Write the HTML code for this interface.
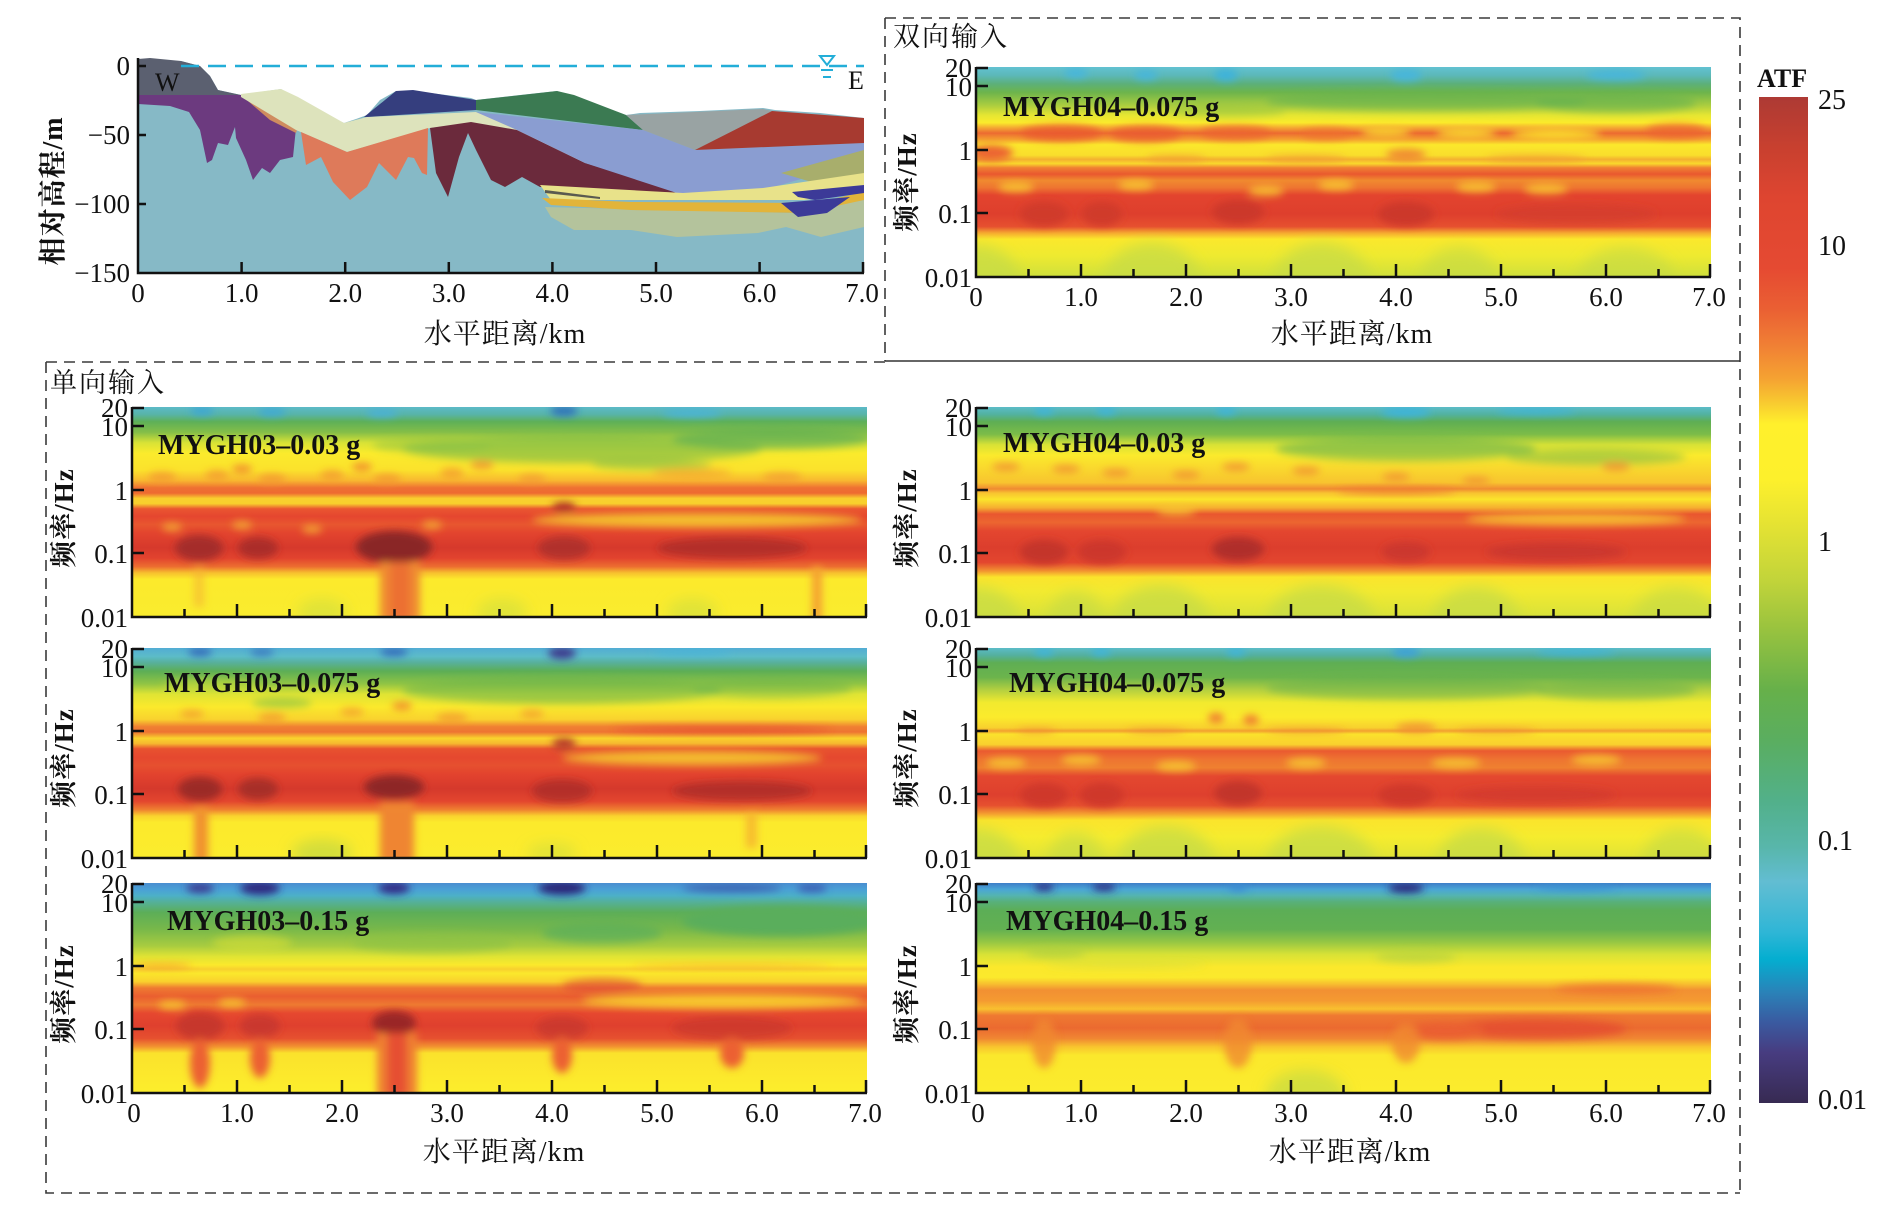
<!DOCTYPE html>
<html><head><meta charset="utf-8"><style>
html,body{margin:0;padding:0;background:#fff;}
svg{display:block;}
.t{font-family:"Liberation Serif","Noto Serif CJK SC",serif;fill:#111;}
</style></head><body>
<svg width="1894" height="1228" viewBox="0 0 1894 1228" xmlns="http://www.w3.org/2000/svg">
<defs>
<filter id="b4" x="-20%" y="-20%" width="140%" height="140%"><feGaussianBlur stdDeviation="4"/></filter>
<filter id="b7" x="-20%" y="-30%" width="140%" height="160%"><feGaussianBlur stdDeviation="7"/></filter>
<linearGradient id="gCB" x1="0" y1="0" x2="0" y2="1">
<stop offset="0" stop-color="#ad3a34"/><stop offset=".05" stop-color="#c8402f"/><stop offset=".1" stop-color="#de4530"/><stop offset=".17" stop-color="#e54a32"/><stop offset=".21" stop-color="#ea5f33"/><stop offset=".245" stop-color="#f07e34"/><stop offset=".28" stop-color="#f5a232"/><stop offset=".305" stop-color="#f8cc30"/><stop offset=".325" stop-color="#fff02c"/><stop offset=".38" stop-color="#fdf02c"/><stop offset=".42" stop-color="#e8e432"/><stop offset=".48" stop-color="#c2d43a"/><stop offset=".525" stop-color="#9cc43e"/><stop offset=".59" stop-color="#66b04a"/><stop offset=".64" stop-color="#5aae60"/><stop offset=".70" stop-color="#52b08a"/><stop offset=".745" stop-color="#58b6aa"/><stop offset=".78" stop-color="#62bdd2"/><stop offset=".83" stop-color="#2fb6d6"/><stop offset=".857" stop-color="#04aed0"/><stop offset=".89" stop-color="#2a82b8"/><stop offset=".92" stop-color="#3a5aa0"/><stop offset=".95" stop-color="#473c80"/><stop offset="1" stop-color="#372a52"/>
</linearGradient>
<linearGradient id="gTR" x1="0" y1="0" x2="0" y2="1">
<stop offset="0" stop-color="#62c2d2"/><stop offset=".04" stop-color="#5cb8b8"/><stop offset=".08" stop-color="#5cb07a"/><stop offset=".12" stop-color="#6cb44c"/><stop offset=".18" stop-color="#a8cc40"/><stop offset=".23" stop-color="#e6e632"/><stop offset=".265" stop-color="#fbeb2c"/><stop offset=".29" stop-color="#f4a632"/><stop offset=".315" stop-color="#ec6a31"/><stop offset=".345" stop-color="#f4a030"/><stop offset=".37" stop-color="#fbe82c"/><stop offset=".42" stop-color="#f9de2c"/><stop offset=".44" stop-color="#f4b030"/><stop offset=".46" stop-color="#f9d82c"/><stop offset=".48" stop-color="#f08032"/><stop offset=".51" stop-color="#e9582f"/><stop offset=".54" stop-color="#f08a2f"/><stop offset=".575" stop-color="#ee7431"/><stop offset=".61" stop-color="#e3442e"/><stop offset=".70" stop-color="#de3f2d"/><stop offset=".76" stop-color="#e6502f"/><stop offset=".79" stop-color="#f5a830"/><stop offset=".82" stop-color="#fbe82c"/><stop offset=".9" stop-color="#eeea30"/><stop offset="1" stop-color="#cfe03c"/>
</linearGradient>
<linearGradient id="gL1" x1="0" y1="0" x2="0" y2="1">
<stop offset="0" stop-color="#5cbac8"/><stop offset=".035" stop-color="#58b4a8"/><stop offset=".07" stop-color="#5eb058"/><stop offset=".12" stop-color="#84be48"/><stop offset=".17" stop-color="#d8e236"/><stop offset=".22" stop-color="#fbeb2c"/><stop offset=".30" stop-color="#fbe22c"/><stop offset=".35" stop-color="#f8b830"/><stop offset=".385" stop-color="#ef7032"/><stop offset=".41" stop-color="#ee6a31"/><stop offset=".435" stop-color="#f9cf2e"/><stop offset=".46" stop-color="#f8d02d"/><stop offset=".485" stop-color="#ea5630"/><stop offset=".52" stop-color="#e5462f"/><stop offset=".56" stop-color="#e8562f"/><stop offset=".60" stop-color="#e3442e"/><stop offset=".67" stop-color="#d6392c"/><stop offset=".72" stop-color="#e2432e"/><stop offset=".76" stop-color="#ec6d30"/><stop offset=".79" stop-color="#f7c02e"/><stop offset=".82" stop-color="#fcea2c"/><stop offset="1" stop-color="#f9ec2e"/>
</linearGradient>
<linearGradient id="gL2" x1="0" y1="0" x2="0" y2="1">
<stop offset="0" stop-color="#52acd4"/><stop offset=".04" stop-color="#5cbcc8"/><stop offset=".07" stop-color="#58b09a"/><stop offset=".11" stop-color="#5cae56"/><stop offset=".17" stop-color="#90c444"/><stop offset=".22" stop-color="#dfe434"/><stop offset=".28" stop-color="#fbe92c"/><stop offset=".34" stop-color="#f9d22e"/><stop offset=".375" stop-color="#f08032"/><stop offset=".40" stop-color="#ee7432"/><stop offset=".43" stop-color="#f9d42d"/><stop offset=".455" stop-color="#f6b82f"/><stop offset=".48" stop-color="#e8522f"/><stop offset=".52" stop-color="#e5482f"/><stop offset=".56" stop-color="#e6502f"/><stop offset=".60" stop-color="#e3432e"/><stop offset=".67" stop-color="#d5392c"/><stop offset=".73" stop-color="#e3462e"/><stop offset=".77" stop-color="#ef8030"/><stop offset=".80" stop-color="#f9d22e"/><stop offset=".83" stop-color="#fcea2c"/><stop offset="1" stop-color="#fbec2d"/>
</linearGradient>
<linearGradient id="gL3" x1="0" y1="0" x2="0" y2="1">
<stop offset="0" stop-color="#4a8ed0"/><stop offset=".03" stop-color="#4aa0d6"/><stop offset=".06" stop-color="#4cb0c8"/><stop offset=".09" stop-color="#54b09a"/><stop offset=".14" stop-color="#5cae58"/><stop offset=".22" stop-color="#78b84a"/><stop offset=".30" stop-color="#a8cc40"/><stop offset=".35" stop-color="#e0e434"/><stop offset=".39" stop-color="#fbe92c"/><stop offset=".41" stop-color="#f8d02e"/><stop offset=".43" stop-color="#fbe82c"/><stop offset=".47" stop-color="#f9d02d"/><stop offset=".50" stop-color="#ef7a31"/><stop offset=".54" stop-color="#ea5e30"/><stop offset=".58" stop-color="#ee7a31"/><stop offset=".62" stop-color="#e6482f"/><stop offset=".68" stop-color="#df402e"/><stop offset=".74" stop-color="#e6502f"/><stop offset=".78" stop-color="#f29530"/><stop offset=".81" stop-color="#fbe22c"/><stop offset="1" stop-color="#fcee2c"/>
</linearGradient>
<linearGradient id="gR1" x1="0" y1="0" x2="0" y2="1">
<stop offset="0" stop-color="#5cbcc8"/><stop offset=".035" stop-color="#52b2a0"/><stop offset=".07" stop-color="#5eae54"/><stop offset=".13" stop-color="#7cbc48"/><stop offset=".18" stop-color="#d8e236"/><stop offset=".23" stop-color="#fbea2c"/><stop offset=".30" stop-color="#f9d62e"/><stop offset=".36" stop-color="#f8c42f"/><stop offset=".39" stop-color="#f08a32"/><stop offset=".41" stop-color="#f8c430"/><stop offset=".44" stop-color="#fbe42c"/><stop offset=".48" stop-color="#f6ae30"/><stop offset=".51" stop-color="#e9562f"/><stop offset=".55" stop-color="#ec6630"/><stop offset=".59" stop-color="#e4462f"/><stop offset=".67" stop-color="#dc3e2d"/><stop offset=".74" stop-color="#e3462e"/><stop offset=".78" stop-color="#f29230"/><stop offset=".81" stop-color="#fbe42c"/><stop offset=".88" stop-color="#f2ea30"/><stop offset="1" stop-color="#d8e23a"/>
</linearGradient>
<linearGradient id="gR2" x1="0" y1="0" x2="0" y2="1">
<stop offset="0" stop-color="#5cbcc8"/><stop offset=".035" stop-color="#54b09e"/><stop offset=".07" stop-color="#5eae54"/><stop offset=".14" stop-color="#6cb44c"/><stop offset=".20" stop-color="#b4d040"/><stop offset=".26" stop-color="#f2ea2e"/><stop offset=".33" stop-color="#fbeb2c"/><stop offset=".38" stop-color="#f8d02e"/><stop offset=".395" stop-color="#f2a030"/><stop offset=".41" stop-color="#fbe22c"/><stop offset=".46" stop-color="#f9d02e"/><stop offset=".49" stop-color="#ea5a30"/><stop offset=".53" stop-color="#ee7431"/><stop offset=".57" stop-color="#ef8030"/><stop offset=".61" stop-color="#e4482f"/><stop offset=".70" stop-color="#de402e"/><stop offset=".75" stop-color="#e6502f"/><stop offset=".79" stop-color="#f4a030"/><stop offset=".82" stop-color="#fbe42c"/><stop offset=".9" stop-color="#f6ec2e"/><stop offset="1" stop-color="#e0e436"/>
</linearGradient>
<linearGradient id="gR3" x1="0" y1="0" x2="0" y2="1">
<stop offset="0" stop-color="#3e7ec8"/><stop offset=".03" stop-color="#4aa6d6"/><stop offset=".06" stop-color="#54b4b0"/><stop offset=".09" stop-color="#58b07a"/><stop offset=".13" stop-color="#5cae56"/><stop offset=".22" stop-color="#62b052"/><stop offset=".28" stop-color="#94c644"/><stop offset=".34" stop-color="#d8e236"/><stop offset=".40" stop-color="#fbe82c"/><stop offset=".45" stop-color="#fbe92c"/><stop offset=".48" stop-color="#f8c02f"/><stop offset=".51" stop-color="#f29032"/><stop offset=".56" stop-color="#f49a31"/><stop offset=".60" stop-color="#f8c02f"/><stop offset=".63" stop-color="#ef7a31"/><stop offset=".69" stop-color="#eb6a30"/><stop offset=".74" stop-color="#f08632"/><stop offset=".78" stop-color="#f8c42e"/><stop offset=".82" stop-color="#fbe82c"/><stop offset="1" stop-color="#fbec2d"/>
</linearGradient>
<g id="ax" stroke="#111" stroke-width="2.5" fill="none">
<path d="M0,0V210H735"/>
<path d="M0,1h12M0,19h12M0,83h12M0,146h12"/>
<path d="M105,210v-13M210,210v-13M315,210v-13M420,210v-13M525,210v-13M630,210v-13M734,210v-13M52.5,210v-8M157.5,210v-8M262.5,210v-8M367.5,210v-8M472.5,210v-8M577.5,210v-8M682.5,210v-8"/>
</g>
</defs>

<!-- ============ dashed frames ============ -->
<g stroke="#3a3a3a" stroke-width="1.6" fill="none" stroke-dasharray="11 7">
<path d="M885,18H1740V1193"/>
<path d="M885,18V361"/>
<path d="M46,362H885"/>
<path d="M46,362V1193H1740"/>
</g>
<path d="M885,361H1740" stroke="#333" stroke-width="1.6"/>

<!-- ============ geology panel ============ -->
<g>
<polygon fill="#86b9c6" points="138,60 181,61 200,66 210,76 218,90 241,95 260,92 281,89 298,100 320,112 344,123 356,119 367,115 380,100 396,91 430,93 471,98 476,100 520,95 557,91 590,102 626,115 640,113 700,111 763,108 775,110 820,113 864,118 864,273 138,273"/>
<polygon fill="#5b6070" points="138,59 150,58 181,61 200,66 210,76 218,90 241,95 241,97 138,97"/>
<polygon fill="#6c3a7f" points="138,95 241,95 296,128 293,157 280,160 270,173 262,168 253,180 246,160 236,138 235,127 228,145 218,143 212,160 207,163 200,130 189,112 170,106 138,104"/>
<polygon fill="#cf8c5f" points="241,95 298,127 296,133 270,120"/>
<polygon fill="#dde3bc" points="241,94 281,89 298,97 344,123 367,117 476,112 517,128 585,163 574,163 517,132 471,123 430,128 347,152 296,130 241,97"/>
<polygon fill="#de7a5a" points="301,132 347,152 428,128 427,175 422,173 414,158 408,157 396,180 379,163 367,187 350,200 333,182 321,157 306,165"/>
<polygon fill="#6b2a3c" points="430,128 471,122 517,130 585,163 683,193 540,187 522,177 505,187 491,180 476,150 468,133 459,157 448,197 436,173"/>
<polygon fill="#353e7e" points="364,117 396,91 413,90 476,100 476,110 367,117"/>
<polygon fill="#3b7a52" points="476,110 476,100 557,91 574,95 626,115 643,130"/>
<polygon fill="#8a9dd1" points="476,112 643,130 695,150 864,143 864,160 815,175 763,190 683,195 585,163 517,130"/>
<polygon fill="#99a3a3" points="626,115 763,109 772,111 695,150 643,130"/>
<polygon fill="#a73a30" points="772,111 864,118 864,143 695,150"/>
<polygon fill="#a8ae6c" points="781,173 864,150 864,180 815,183"/>
<polygon fill="#b4c39c" points="545,207 792,213 864,200 864,227 821,237 786,227 758,233 677,237 631,230 574,230 551,217"/>
<polygon fill="#e8e28a" points="540,185 683,193 763,188 864,173 864,193 804,200 689,200 551,200"/>
<polygon fill="#e2b43a" points="542,198 631,202 815,203 864,192 864,200 804,213 631,210 551,205"/>
<polygon fill="#5a5a50" points="545,190 600,197 600,199 545,193"/>
<polygon fill="#3c3a98" points="792,192 864,185 864,193 815,200 798,197"/>
<polygon fill="#3c3a98" points="781,203 850,197 827,213 798,217"/>
<path d="M181,66H864" stroke="#23aed8" stroke-width="2.5" stroke-dasharray="18 9"/>
<path d="M820,56h14l-7,9z" fill="#fff" stroke="#23aed8" stroke-width="2"/>
<path d="M821,70h12M823,77h8" stroke="#23aed8" stroke-width="2"/>
<g stroke="#111" stroke-width="2.5" fill="none">
<path d="M138,58V273H864"/>
<path d="M138,66h8M138,135h8M138,204h8"/>
<path d="M241.6,273v-11M345.2,273v-11M448.8,273v-11M552.4,273v-11M656,273v-11M759.6,273v-11M863,273v-11"/>
</g>
<text class="t" x="155" y="91" font-size="26">W</text>
<text class="t" x="848" y="89" font-size="26">E</text>
<g class="t" font-size="27" text-anchor="end">
<text x="130" y="75">0</text>
<text x="130" y="144">−50</text>
<text x="130" y="213">−100</text>
<text x="130" y="282">−150</text>
</g>
<g class="t" font-size="27" text-anchor="middle">
<text x="138" y="302">0</text><text x="241.6" y="302">1.0</text><text x="345.2" y="302">2.0</text><text x="448.8" y="302">3.0</text><text x="552.4" y="302">4.0</text><text x="656" y="302">5.0</text><text x="759.6" y="302">6.0</text><text x="862" y="302">7.0</text>
</g>
<text class="t" x="505" y="343" font-size="28" text-anchor="middle" letter-spacing="1">水平距离/km</text>
<text class="t" transform="translate(62,191) rotate(-90)" font-size="28" font-weight="bold" text-anchor="middle" letter-spacing="1">相对高程/m</text>
</g>

<!-- ============ labels for boxes ============ -->
<text class="t" x="893" y="46" font-size="27" letter-spacing="2">双向输入</text>
<text class="t" x="50" y="392" font-size="27" letter-spacing="2">单向输入</text>

<!-- ============ TR panel ============ -->
<svg x="976" y="67" width="735" height="210" viewBox="0 0 735 210">
<rect width="735" height="210" fill="url(#gTR)"/>
<g filter="url(#b4)">
<ellipse cx="100" cy="6" rx="12" ry="5" fill="#46b6dc"/><ellipse cx="170" cy="8" rx="12" ry="5" fill="#46b6dc"/><ellipse cx="250" cy="8" rx="12" ry="6" fill="#3cb2dc"/><ellipse cx="430" cy="8" rx="16" ry="6" fill="#46b6dc"/><ellipse cx="640" cy="8" rx="30" ry="5" fill="#46b6dc"/>
<ellipse cx="450" cy="34" rx="160" ry="10" fill="#62b050" opacity=".6"/><ellipse cx="640" cy="36" rx="80" ry="10" fill="#62b050" opacity=".6"/><ellipse cx="250" cy="44" rx="60" ry="6" fill="#8cc244" opacity=".5"/>
<ellipse cx="85" cy="66" rx="40" ry="8" fill="#ea5a30" opacity=".85"/><ellipse cx="170" cy="67" rx="35" ry="8" fill="#ea5a30" opacity=".8"/><ellipse cx="260" cy="66" rx="35" ry="7" fill="#ec6430" opacity=".8"/><ellipse cx="350" cy="67" rx="25" ry="6" fill="#ee7030" opacity=".7"/><ellipse cx="700" cy="64" rx="30" ry="7" fill="#ec6430" opacity=".8"/>
<ellipse cx="410" cy="65" rx="25" ry="5" fill="#f8d02e"/><ellipse cx="490" cy="66" rx="30" ry="5" fill="#f9d82e"/><ellipse cx="580" cy="67" rx="45" ry="5" fill="#fbe22c"/>
<ellipse cx="15" cy="86" rx="22" ry="8" fill="#ec6430"/>
<ellipse cx="200" cy="92" rx="30" ry="3" fill="#f3a030"/><ellipse cx="330" cy="92" rx="40" ry="3" fill="#f3a030"/><ellipse cx="560" cy="92" rx="50" ry="3" fill="#f3a030"/><ellipse cx="430" cy="88" rx="20" ry="6" fill="#f08a32"/>
<ellipse cx="40" cy="120" rx="18" ry="5" fill="#f9d02e" opacity=".8"/><ellipse cx="160" cy="118" rx="18" ry="5" fill="#f9d02e" opacity=".8"/><ellipse cx="290" cy="124" rx="18" ry="5" fill="#f9d02e" opacity=".8"/><ellipse cx="360" cy="118" rx="18" ry="5" fill="#f9d02e" opacity=".8"/><ellipse cx="500" cy="120" rx="20" ry="5" fill="#f9d02e" opacity=".8"/><ellipse cx="570" cy="122" rx="22" ry="5" fill="#f9d02e" opacity=".8"/>
<ellipse cx="68" cy="147" rx="24" ry="12" fill="#d03a2c"/><ellipse cx="126" cy="147" rx="20" ry="12" fill="#d03a2c"/><ellipse cx="262" cy="145" rx="26" ry="12" fill="#cc382c"/><ellipse cx="430" cy="147" rx="28" ry="12" fill="#cc382c"/><ellipse cx="600" cy="147" rx="80" ry="10" fill="#d03a2c" opacity=".6"/>
</g>
<g filter="url(#b7)">
<ellipse cx="0" cy="218" rx="45" ry="40" fill="#c8dc44" opacity=".8"/><ellipse cx="176" cy="218" rx="50" ry="42" fill="#c8dc44" opacity=".8"/><ellipse cx="346" cy="218" rx="50" ry="42" fill="#c8dc44" opacity=".8"/><ellipse cx="483" cy="218" rx="40" ry="38" fill="#c8dc44" opacity=".7"/><ellipse cx="650" cy="218" rx="50" ry="38" fill="#c8dc44" opacity=".7"/>
</g>
</svg>

<!-- ============ L1 ============ -->
<svg x="132" y="407" width="735" height="210" viewBox="0 0 735 210">
<rect width="735" height="210" fill="url(#gL1)"/>
<g filter="url(#b4)">
<ellipse cx="70" cy="4" rx="12" ry="4" fill="#3aa4d4"/><ellipse cx="140" cy="5" rx="14" ry="4" fill="#3ca8d6"/><ellipse cx="250" cy="6" rx="16" ry="4" fill="#48b0d8"/><ellipse cx="432" cy="4" rx="14" ry="5" fill="#2f70b8"/><ellipse cx="560" cy="6" rx="30" ry="4" fill="#4ab4d8"/>
<ellipse cx="450" cy="42" rx="180" ry="14" fill="#6cb44c" opacity=".6"/><ellipse cx="640" cy="32" rx="100" ry="10" fill="#5cae54" opacity=".7"/><ellipse cx="300" cy="38" rx="60" ry="8" fill="#8cc244" opacity=".5"/><ellipse cx="520" cy="58" rx="60" ry="5" fill="#84be48" opacity=".6"/>
<ellipse cx="30" cy="70" rx="14" ry="5" fill="#f29030" opacity=".7"/><ellipse cx="85" cy="68" rx="12" ry="5" fill="#f29030" opacity=".7"/><ellipse cx="140" cy="72" rx="14" ry="5" fill="#f29030" opacity=".7"/><ellipse cx="200" cy="68" rx="12" ry="5" fill="#f29030" opacity=".7"/><ellipse cx="255" cy="72" rx="14" ry="5" fill="#f29030" opacity=".7"/><ellipse cx="320" cy="66" rx="12" ry="5" fill="#f29030" opacity=".7"/><ellipse cx="400" cy="72" rx="14" ry="5" fill="#f29030" opacity=".6"/><ellipse cx="560" cy="66" rx="40" ry="5" fill="#f29030" opacity=".5"/><ellipse cx="650" cy="70" rx="20" ry="5" fill="#f29030" opacity=".6"/>
<ellipse cx="110" cy="62" rx="10" ry="4" fill="#ec6a30" opacity=".7"/><ellipse cx="230" cy="60" rx="10" ry="4" fill="#ec6a30" opacity=".7"/><ellipse cx="350" cy="58" rx="12" ry="4" fill="#ec6a30" opacity=".6"/>
<ellipse cx="565" cy="113" rx="165" ry="7" fill="#f7d22e" opacity=".85"/>
<ellipse cx="40" cy="120" rx="10" ry="4" fill="#f2a030"/><ellipse cx="110" cy="118" rx="10" ry="4" fill="#f2a030"/><ellipse cx="180" cy="122" rx="10" ry="4" fill="#f2a030"/><ellipse cx="300" cy="118" rx="10" ry="4" fill="#f2a030"/>
<ellipse cx="432" cy="100" rx="12" ry="5" fill="#b03028"/>
<ellipse cx="67" cy="141" rx="24" ry="13" fill="#9c2a28" opacity=".85"/><ellipse cx="126" cy="141" rx="20" ry="11" fill="#9c2a28" opacity=".75"/><ellipse cx="262" cy="140" rx="38" ry="16" fill="#8a2626"/><ellipse cx="432" cy="141" rx="26" ry="12" fill="#9c2a28" opacity=".65"/><ellipse cx="600" cy="141" rx="75" ry="11" fill="#9c2a28" opacity=".6"/>
<rect x="248" y="155" width="40" height="60" fill="#ef8a31"/><rect x="258" y="155" width="20" height="60" fill="#ec7030"/><rect x="680" y="160" width="10" height="55" fill="#f4a030"/><rect x="62" y="160" width="10" height="40" fill="#f5b030" opacity=".6"/>
</g>
<g filter="url(#b7)"><ellipse cx="190" cy="205" rx="25" ry="14" fill="#c8dc44" opacity=".5"/><ellipse cx="370" cy="205" rx="25" ry="14" fill="#c8dc44" opacity=".5"/><ellipse cx="560" cy="205" rx="25" ry="14" fill="#c8dc44" opacity=".5"/></g>
</svg>

<!-- ============ L2 ============ -->
<svg x="132" y="648" width="735" height="210" viewBox="0 0 735 210">
<rect width="735" height="210" fill="url(#gL2)"/>
<g filter="url(#b4)">
<ellipse cx="68" cy="4" rx="12" ry="4" fill="#3366b8"/><ellipse cx="130" cy="4" rx="12" ry="4" fill="#3a7ac0"/><ellipse cx="262" cy="4" rx="14" ry="4" fill="#3366b8"/><ellipse cx="430" cy="5" rx="14" ry="6" fill="#3c3a8c"/><ellipse cx="560" cy="4" rx="40" ry="3" fill="#4ab4d8"/>
<ellipse cx="430" cy="42" rx="160" ry="14" fill="#6cb44c" opacity=".6"/><ellipse cx="640" cy="40" rx="80" ry="10" fill="#6cb44c" opacity=".5"/><ellipse cx="80" cy="38" rx="50" ry="7" fill="#d0e038" opacity=".5"/><ellipse cx="150" cy="55" rx="30" ry="5" fill="#7cbc48" opacity=".6"/>
<ellipse cx="60" cy="66" rx="12" ry="4" fill="#f29030" opacity=".7"/><ellipse cx="140" cy="70" rx="14" ry="5" fill="#f29030" opacity=".7"/><ellipse cx="220" cy="64" rx="12" ry="4" fill="#f29030" opacity=".7"/><ellipse cx="320" cy="70" rx="16" ry="5" fill="#f29030" opacity=".7"/><ellipse cx="400" cy="66" rx="12" ry="4" fill="#f29030" opacity=".7"/><ellipse cx="270" cy="58" rx="10" ry="4" fill="#ec6a30" opacity=".7"/>
<ellipse cx="590" cy="82" rx="110" ry="3" fill="#e5482f" opacity=".8"/>
<ellipse cx="432" cy="96" rx="12" ry="6" fill="#b83a2c"/>
<ellipse cx="560" cy="110" rx="130" ry="7" fill="#f7d02e" opacity=".85"/>
<ellipse cx="68" cy="141" rx="22" ry="12" fill="#9c2a28"/><ellipse cx="126" cy="141" rx="20" ry="11" fill="#9c2a28" opacity=".8"/><ellipse cx="262" cy="139" rx="30" ry="12" fill="#8e2626"/><ellipse cx="430" cy="143" rx="30" ry="12" fill="#9c2a28" opacity=".6"/><ellipse cx="610" cy="143" rx="70" ry="10" fill="#9c2a28" opacity=".6"/>
<rect x="62" y="160" width="14" height="55" fill="#f0902f"/><rect x="248" y="155" width="34" height="60" fill="#ef8530"/><rect x="614" y="165" width="11" height="35" fill="#f5a830" opacity=".7"/>
</g>
<g filter="url(#b7)"><ellipse cx="190" cy="205" rx="30" ry="14" fill="#b8d444" opacity=".6"/><ellipse cx="420" cy="205" rx="25" ry="10" fill="#b8d444" opacity=".4"/></g>
</svg>

<!-- ============ L3 ============ -->
<svg x="132" y="883" width="735" height="210" viewBox="0 0 735 210">
<rect width="735" height="210" fill="url(#gL3)"/>
<g filter="url(#b4)">
<ellipse cx="68" cy="5" rx="14" ry="5" fill="#3a3a90"/><ellipse cx="128" cy="5" rx="20" ry="7" fill="#2e2a80"/><ellipse cx="262" cy="5" rx="16" ry="6" fill="#302c84"/><ellipse cx="430" cy="5" rx="24" ry="7" fill="#2a2878"/><ellipse cx="600" cy="5" rx="50" ry="4" fill="#3a60b0"/><ellipse cx="680" cy="5" rx="15" ry="4" fill="#3a5ab0"/>
<ellipse cx="650" cy="38" rx="100" ry="15" fill="#5aae5c"/><ellipse cx="470" cy="50" rx="60" ry="10" fill="#5aae5c" opacity=".7"/><ellipse cx="300" cy="60" rx="80" ry="10" fill="#8cc244" opacity=".6"/><ellipse cx="120" cy="60" rx="40" ry="8" fill="#e0e434" opacity=".5"/>
<ellipse cx="30" cy="83" rx="30" ry="2" fill="#f08030" opacity=".8"/><ellipse cx="600" cy="83" rx="100" ry="2" fill="#f5a030" opacity=".7"/>
<ellipse cx="470" cy="103" rx="40" ry="8" fill="#e04530" opacity=".6"/>
<ellipse cx="590" cy="118" rx="140" ry="7" fill="#f8d22e" opacity=".9"/><ellipse cx="40" cy="122" rx="14" ry="4" fill="#f6c02e"/><ellipse cx="100" cy="120" rx="14" ry="4" fill="#f6c02e"/>
<ellipse cx="68" cy="143" rx="24" ry="14" fill="#c0322c" opacity=".8"/><ellipse cx="128" cy="143" rx="20" ry="12" fill="#c0322c" opacity=".7"/><ellipse cx="262" cy="140" rx="22" ry="12" fill="#9a2828"/><ellipse cx="430" cy="145" rx="26" ry="12" fill="#c0322c" opacity=".6"/><ellipse cx="600" cy="145" rx="60" ry="12" fill="#c0322c" opacity=".5"/>
<ellipse cx="68" cy="180" rx="10" ry="25" fill="#ec6030"/><ellipse cx="128" cy="175" rx="10" ry="20" fill="#ec6030"/><rect x="245" y="150" width="40" height="65" fill="#ef8030"/><rect x="255" y="150" width="20" height="65" fill="#e65030"/><ellipse cx="430" cy="172" rx="10" ry="18" fill="#ec6030"/><ellipse cx="600" cy="170" rx="12" ry="15" fill="#ec6030"/>
</g>
</svg>

<!-- ============ R1 ============ -->
<svg x="976" y="407" width="735" height="210" viewBox="0 0 735 210">
<rect width="735" height="210" fill="url(#gR1)"/>
<g filter="url(#b4)">
<ellipse cx="68" cy="4" rx="10" ry="4" fill="#3cb4dc"/><ellipse cx="130" cy="4" rx="10" ry="4" fill="#3cb4dc"/><ellipse cx="250" cy="4" rx="10" ry="4" fill="#3cb4dc"/><ellipse cx="430" cy="5" rx="25" ry="5" fill="#3cb4dc"/><ellipse cx="560" cy="4" rx="40" ry="3" fill="#3cb4dc"/>
<ellipse cx="430" cy="42" rx="130" ry="12" fill="#64b050" opacity=".6"/><ellipse cx="620" cy="50" rx="90" ry="8" fill="#6cb44c" opacity=".5"/>
<ellipse cx="30" cy="60" rx="14" ry="4" fill="#f29a30"/><ellipse cx="90" cy="62" rx="14" ry="4" fill="#f29a30"/><ellipse cx="140" cy="66" rx="14" ry="4" fill="#f29a30"/><ellipse cx="210" cy="68" rx="14" ry="4" fill="#f29a30"/><ellipse cx="260" cy="60" rx="14" ry="4" fill="#f29a30"/><ellipse cx="330" cy="64" rx="14" ry="4" fill="#f29a30"/><ellipse cx="420" cy="70" rx="14" ry="4" fill="#f29a30"/><ellipse cx="500" cy="74" rx="14" ry="4" fill="#f29a30"/><ellipse cx="640" cy="60" rx="14" ry="4" fill="#f29a30"/>
<ellipse cx="420" cy="84" rx="60" ry="3" fill="#ef7a32"/>
<ellipse cx="600" cy="112" rx="110" ry="6" fill="#f8d02e" opacity=".8"/><ellipse cx="200" cy="104" rx="20" ry="4" fill="#f8d02e" opacity=".8"/>
<ellipse cx="68" cy="145" rx="24" ry="12" fill="#c4342c"/><ellipse cx="126" cy="145" rx="24" ry="12" fill="#c8362c" opacity=".8"/><ellipse cx="262" cy="142" rx="26" ry="12" fill="#b02e2a"/><ellipse cx="430" cy="145" rx="24" ry="10" fill="#c4342c" opacity=".7"/><ellipse cx="580" cy="145" rx="70" ry="9" fill="#c4342c" opacity=".7"/>
</g>
<g filter="url(#b7)">
<ellipse cx="0" cy="218" rx="45" ry="38" fill="#c8dc44" opacity=".8"/><ellipse cx="100" cy="218" rx="30" ry="34" fill="#c8dc44" opacity=".7"/><ellipse cx="185" cy="218" rx="50" ry="40" fill="#c8dc44" opacity=".8"/><ellipse cx="345" cy="218" rx="55" ry="40" fill="#c8dc44" opacity=".8"/><ellipse cx="500" cy="218" rx="45" ry="38" fill="#c8dc44" opacity=".8"/><ellipse cx="700" cy="218" rx="45" ry="38" fill="#c8dc44" opacity=".7"/>
</g>
</svg>

<!-- ============ R2 ============ -->
<svg x="976" y="648" width="735" height="210" viewBox="0 0 735 210">
<rect width="735" height="210" fill="url(#gR2)"/>
<g filter="url(#b4)">
<ellipse cx="68" cy="4" rx="10" ry="4" fill="#3cb4dc"/><ellipse cx="125" cy="4" rx="10" ry="4" fill="#3cb4dc"/><ellipse cx="260" cy="4" rx="10" ry="4" fill="#3cb4dc"/><ellipse cx="430" cy="4" rx="14" ry="5" fill="#3ca0d8"/><ellipse cx="600" cy="4" rx="40" ry="3" fill="#3cb4dc"/>
<ellipse cx="430" cy="40" rx="140" ry="12" fill="#62b050" opacity=".5"/><ellipse cx="640" cy="42" rx="80" ry="10" fill="#62b050" opacity=".5"/>
<ellipse cx="240" cy="70" rx="8" ry="5" fill="#ef7a32"/><ellipse cx="275" cy="72" rx="8" ry="5" fill="#ef7a32"/>
<ellipse cx="60" cy="83" rx="20" ry="2" fill="#ef8032" opacity=".8"/><ellipse cx="180" cy="83" rx="30" ry="2" fill="#ef8032" opacity=".8"/><ellipse cx="330" cy="83" rx="40" ry="2" fill="#ef8032" opacity=".8"/><ellipse cx="520" cy="83" rx="40" ry="2" fill="#ef8032" opacity=".8"/><ellipse cx="440" cy="80" rx="20" ry="5" fill="#f08a32" opacity=".8"/>
<ellipse cx="30" cy="115" rx="20" ry="5" fill="#f8d02e" opacity=".8"/><ellipse cx="105" cy="112" rx="20" ry="5" fill="#f8d02e" opacity=".8"/><ellipse cx="200" cy="118" rx="20" ry="5" fill="#f8d02e" opacity=".8"/><ellipse cx="330" cy="115" rx="20" ry="5" fill="#f8d02e" opacity=".8"/><ellipse cx="480" cy="115" rx="25" ry="5" fill="#f8d02e" opacity=".8"/><ellipse cx="620" cy="112" rx="25" ry="5" fill="#f8d02e" opacity=".8"/>
<ellipse cx="68" cy="147" rx="24" ry="12" fill="#cf382c"/><ellipse cx="126" cy="147" rx="22" ry="12" fill="#cf382c"/><ellipse cx="262" cy="145" rx="24" ry="12" fill="#c2342c"/><ellipse cx="430" cy="147" rx="28" ry="11" fill="#cf382c"/><ellipse cx="560" cy="147" rx="80" ry="9" fill="#cf382c" opacity=".6"/>
</g>
<g filter="url(#b7)">
<ellipse cx="0" cy="218" rx="45" ry="38" fill="#c8dc44" opacity=".8"/><ellipse cx="100" cy="218" rx="30" ry="34" fill="#c8dc44" opacity=".7"/><ellipse cx="190" cy="218" rx="50" ry="40" fill="#c8dc44" opacity=".8"/><ellipse cx="345" cy="218" rx="55" ry="40" fill="#c8dc44" opacity=".8"/><ellipse cx="505" cy="218" rx="45" ry="38" fill="#c8dc44" opacity=".8"/><ellipse cx="705" cy="218" rx="40" ry="38" fill="#c8dc44" opacity=".7"/>
</g>
</svg>

<!-- ============ R3 ============ -->
<svg x="976" y="883" width="735" height="210" viewBox="0 0 735 210">
<rect width="735" height="210" fill="url(#gR3)"/>
<g filter="url(#b4)">
<ellipse cx="68" cy="4" rx="10" ry="4" fill="#2e2e80"/><ellipse cx="128" cy="4" rx="12" ry="4" fill="#2e2e80"/><ellipse cx="262" cy="4" rx="10" ry="4" fill="#3a8ad0"/><ellipse cx="430" cy="5" rx="18" ry="5" fill="#2a2878"/><ellipse cx="600" cy="4" rx="40" ry="3" fill="#3a90d0"/>
<ellipse cx="150" cy="82" rx="80" ry="3" fill="#c8dc40" opacity=".5"/><ellipse cx="80" cy="70" rx="30" ry="5" fill="#a8cc40" opacity=".6"/><ellipse cx="440" cy="74" rx="40" ry="6" fill="#a8cc40" opacity=".5"/>
<ellipse cx="640" cy="106" rx="60" ry="5" fill="#ee7031" opacity=".8"/>
<ellipse cx="560" cy="146" rx="90" ry="10" fill="#e44a2f" opacity=".8"/><ellipse cx="470" cy="148" rx="40" ry="8" fill="#ea5e30"/>
<ellipse cx="68" cy="160" rx="12" ry="25" fill="#f08a31" opacity=".8"/><ellipse cx="262" cy="160" rx="14" ry="25" fill="#f08a31" opacity=".8"/><ellipse cx="430" cy="160" rx="14" ry="20" fill="#f08a31" opacity=".8"/>
</g>
<g filter="url(#b7)"><ellipse cx="330" cy="212" rx="40" ry="25" fill="#c4da44" opacity=".7"/></g>
</svg>

<!-- ============ axes ============ -->
<use href="#ax" x="976" y="67"/>
<use href="#ax" x="132" y="407"/>
<use href="#ax" x="132" y="648"/>
<use href="#ax" x="132" y="883"/>
<use href="#ax" x="976" y="407"/>
<use href="#ax" x="976" y="648"/>
<use href="#ax" x="976" y="883"/>

<!-- y tick labels -->
<g class="t" font-size="27" text-anchor="end">
<text x="128" y="417">20</text><text x="128" y="436">10</text><text x="128" y="500">1</text><text x="128" y="563">0.1</text><text x="128" y="627">0.01</text>
<text x="128" y="658">20</text><text x="128" y="677">10</text><text x="128" y="741">1</text><text x="128" y="804">0.1</text><text x="128" y="868">0.01</text>
<text x="128" y="893">20</text><text x="128" y="912">10</text><text x="128" y="976">1</text><text x="128" y="1039">0.1</text><text x="128" y="1103">0.01</text>
<text x="972" y="77">20</text><text x="972" y="96">10</text><text x="972" y="160">1</text><text x="972" y="223">0.1</text><text x="972" y="287">0.01</text>
<text x="972" y="417">20</text><text x="972" y="436">10</text><text x="972" y="500">1</text><text x="972" y="563">0.1</text><text x="972" y="627">0.01</text>
<text x="972" y="658">20</text><text x="972" y="677">10</text><text x="972" y="741">1</text><text x="972" y="804">0.1</text><text x="972" y="868">0.01</text>
<text x="972" y="893">20</text><text x="972" y="912">10</text><text x="972" y="976">1</text><text x="972" y="1039">0.1</text><text x="972" y="1103">0.01</text>
</g>
<!-- x tick labels -->
<g class="t" font-size="27" text-anchor="middle">
<text x="976" y="306">0</text><text x="1081" y="306">1.0</text><text x="1186" y="306">2.0</text><text x="1291" y="306">3.0</text><text x="1396" y="306">4.0</text><text x="1501" y="306">5.0</text><text x="1606" y="306">6.0</text><text x="1709" y="306">7.0</text>
<text x="134" y="1122">0</text><text x="237" y="1122">1.0</text><text x="342" y="1122">2.0</text><text x="447" y="1122">3.0</text><text x="552" y="1122">4.0</text><text x="657" y="1122">5.0</text><text x="762" y="1122">6.0</text><text x="865" y="1122">7.0</text>
<text x="978" y="1122">0</text><text x="1081" y="1122">1.0</text><text x="1186" y="1122">2.0</text><text x="1291" y="1122">3.0</text><text x="1396" y="1122">4.0</text><text x="1501" y="1122">5.0</text><text x="1606" y="1122">6.0</text><text x="1709" y="1122">7.0</text>
</g>
<!-- axis titles -->
<g class="t" font-size="28" text-anchor="middle" letter-spacing="1">
<text x="1352" y="343">水平距离/km</text>
<text x="504" y="1161">水平距离/km</text>
<text x="1350" y="1161">水平距离/km</text>
</g>
<g class="t" font-size="27" font-weight="bold" text-anchor="middle" letter-spacing="1">
<text transform="translate(916,182) rotate(-90)">频率/Hz</text>
<text transform="translate(73,518) rotate(-90)">频率/Hz</text>
<text transform="translate(73,758) rotate(-90)">频率/Hz</text>
<text transform="translate(73,994) rotate(-90)">频率/Hz</text>
<text transform="translate(916,518) rotate(-90)">频率/Hz</text>
<text transform="translate(916,758) rotate(-90)">频率/Hz</text>
<text transform="translate(916,994) rotate(-90)">频率/Hz</text>
</g>
<!-- panel labels -->
<g class="t" font-size="28" font-weight="bold">
<text x="1003" y="116">MYGH04–0.075 g</text>
<text x="158" y="454">MYGH03–0.03 g</text>
<text x="164" y="692">MYGH03–0.075 g</text>
<text x="167" y="930">MYGH03–0.15 g</text>
<text x="1003" y="452">MYGH04–0.03 g</text>
<text x="1009" y="692">MYGH04–0.075 g</text>
<text x="1006" y="930">MYGH04–0.15 g</text>
</g>

<!-- ============ colorbar ============ -->
<rect x="1759" y="97" width="49" height="1006" fill="url(#gCB)"/>
<text class="t" x="1757" y="87" font-size="26" font-weight="bold">ATF</text>
<g class="t" font-size="28">
<text x="1818" y="109">25</text>
<text x="1818" y="255">10</text>
<text x="1818" y="551">1</text>
<text x="1818" y="850">0.1</text>
<text x="1818" y="1109">0.01</text>
</g>
</svg>
</body></html>
